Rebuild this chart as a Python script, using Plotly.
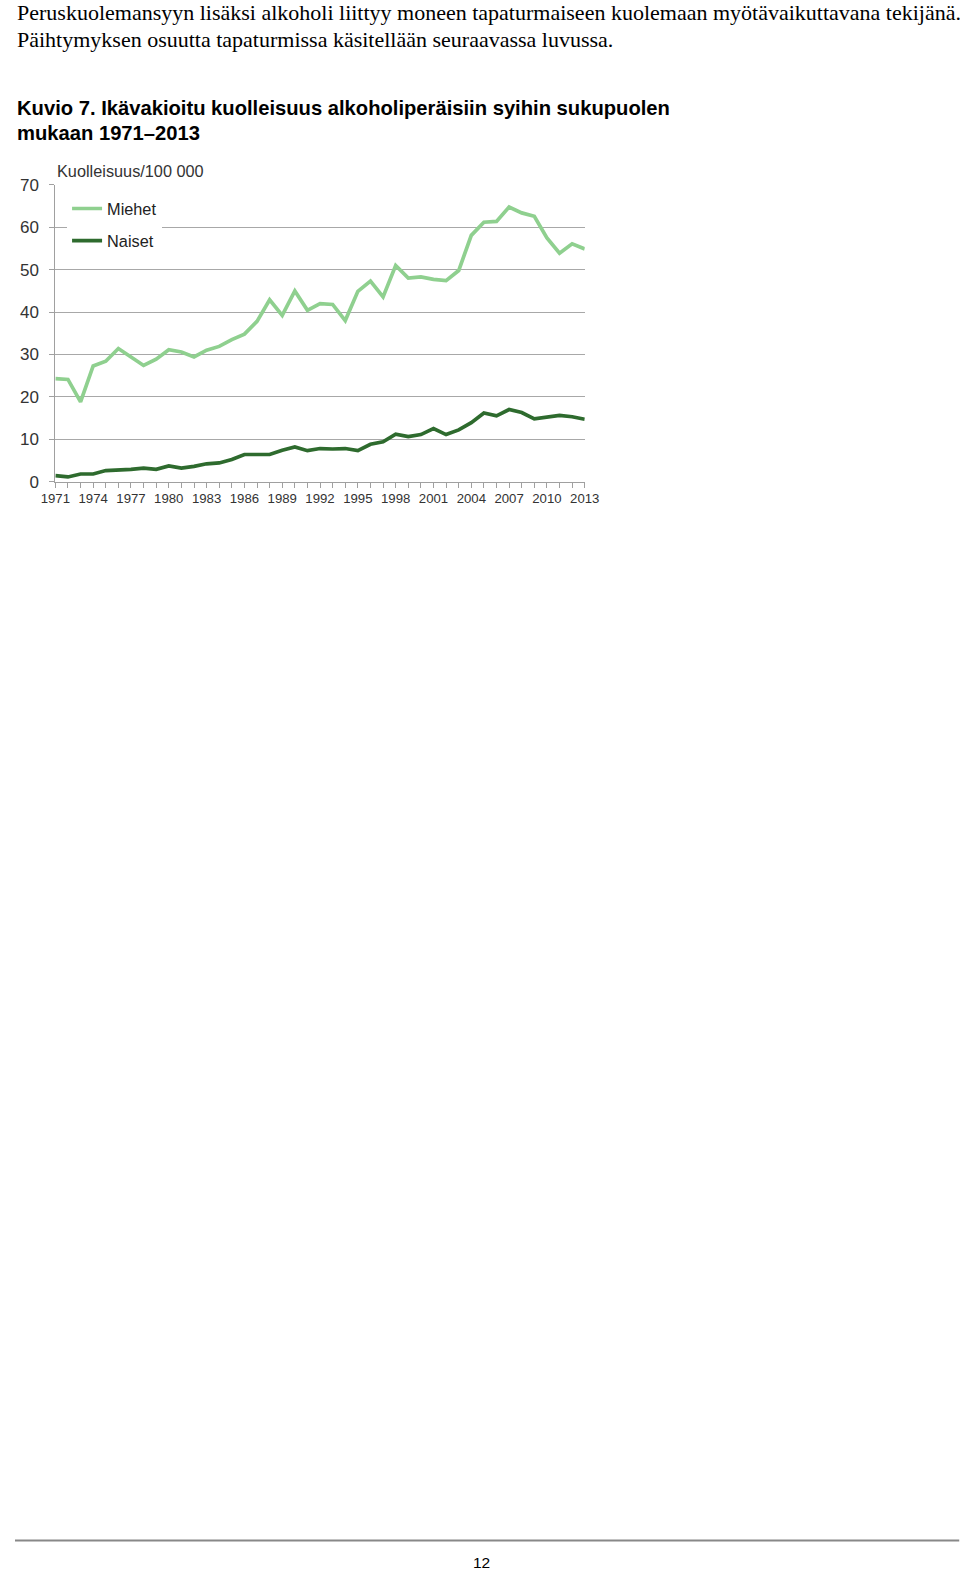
import plotly.graph_objects as go

# The captured page maps figure pixels to picture pixels as
# x' = OX + SX * x and y' = OY + SY * y, so positions read from the
# reference picture are converted back into figure pixels.
SX, OX = 0.968, 14.0
SY, OY = 0.989, 8.4
W, H = 976, 1580

years = list(range(1971, 2014))
miehet = [24.3, 24.1, 18.8, 27.3, 28.4, 31.4, 29.4, 27.4, 28.9, 31.1,
          30.6, 29.4, 31.0, 31.9, 33.5, 34.8, 37.8, 42.9, 39.2, 45.0,
          40.4, 42.0, 41.8, 38.0, 44.9, 47.3, 43.6, 51.0, 48.0, 48.3,
          47.7, 47.4, 49.8, 58.1, 61.2, 61.4, 64.8, 63.4, 62.6, 57.5,
          53.9, 56.1, 54.9]
naiset = [1.4, 1.1, 1.8, 1.8, 2.6, 2.7, 2.9, 3.2, 2.9, 3.7,
          3.2, 3.6, 4.2, 4.4, 5.2, 6.4, 6.4, 6.4, 7.4, 8.2,
          7.3, 7.8, 7.7, 7.8, 7.3, 8.8, 9.4, 11.2, 10.6, 11.1,
          12.5, 11.1, 12.2, 13.9, 16.2, 15.5, 17.0, 16.3, 14.8, 15.1,
          15.6, 15.3, 14.7]
xtick_years = list(range(1971, 2014, 3))
series_names = ["Miehet", "Naiset"]

def px_x(x):
    return max((x - OX) / SX, 0) / W

def px_y(y):
    return 1 - max((y - OY) / SY, 0) / H

SANS = "Liberation Sans, Arial, sans-serif"
SERIF = "Liberation Serif, Times New Roman, serif"

fig = go.Figure()
fig.add_trace(go.Scatter(x=years, y=miehet, mode="lines", name=series_names[0],
                         legendgroup="m",
                         line=dict(color="#8fd08f", width=3.7)))
fig.add_trace(go.Scatter(x=years, y=naiset, mode="lines", name=series_names[1],
                         legendgroup="n",
                         line=dict(color="#2e6b2e", width=3.7)))

fig.update_layout(
    width=W, height=H,
    margin=dict(l=0, r=0, t=0, b=0),
    paper_bgcolor="white", plot_bgcolor="white",
    showlegend=True,
    legend=dict(x=px_x(66), y=px_y(191), xanchor="left", yanchor="top",
                bgcolor="white", font=dict(family=SANS, size=16.3, color="#222222"),
                tracegroupgap=8, itemwidth=30, traceorder="grouped"),
    xaxis=dict(domain=[px_x(54.3), px_x(583)], range=[1971, 2013],
               tickvals=xtick_years, ticktext=[str(y) for y in xtick_years],
               ticks="outside", ticklen=5, tickcolor="#a0a0a0", tickwidth=1,
               minor=dict(ticks="outside", dtick=1, tick0=1971, ticklen=5,
                          tickcolor="#a0a0a0", showgrid=False),
               showline=True, linecolor="#a0a0a0", linewidth=1,
               showgrid=False, zeroline=False,
               tickfont=dict(family=SANS, size=13.2, color="#333333"),
               fixedrange=True),
    yaxis=dict(domain=[px_y(481.5), px_y(184.5)], range=[0, 70], dtick=10,
               ticks="outside", ticklen=5, tickcolor="#a0a0a0",
               showline=True, linecolor="#a0a0a0", linewidth=1,
               showgrid=True, gridcolor="#a8a8a8", gridwidth=1,
               zeroline=False, tickfont=dict(family=SANS, size=17, color="#333333"),
               ticklabelstandoff=7, fixedrange=True),
)

annotations = [
    dict(text="Peruskuolemansyyn lisäksi alkoholi liittyy moneen tapaturmaiseen kuolemaan myötävaikuttavana tekijänä.",
         x=px_x(0), y=px_y(12), font=dict(family=SERIF, size=22.0, color="black")),
    dict(text="Päihtymyksen osuutta tapaturmissa käsitellään seuraavassa luvussa.",
         x=px_x(0), y=px_y(39), font=dict(family=SERIF, size=22.0, color="black")),
    dict(text="<b>Kuvio 7. Ikävakioitu kuolleisuus alkoholiperäisiin syihin sukupuolen</b>",
         x=px_x(0), y=px_y(107.5), font=dict(family=SANS, size=20.2, color="black")),
    dict(text="<b>mukaan 1971–2013</b>",
         x=px_x(0), y=px_y(132.5), font=dict(family=SANS, size=20.2, color="black")),
    dict(text="Kuolleisuus/100 000",
         x=px_x(54), y=px_y(171), font=dict(family=SANS, size=16.3, color="#333333")),
    dict(text="12", x=px_x(480), y=px_y(1564), xanchor="center",
         font=dict(family=SANS, size=15.5, color="black")),
]
for a in annotations:
    a.setdefault("xanchor", "left")
    fig.add_annotation(xref="paper", yref="paper", yanchor="middle", showarrow=False, **a)

fig.add_shape(type="line", xref="paper", yref="paper",
              x0=0, x1=px_x(957), y0=px_y(1541.5), y1=px_y(1541.5),
              line=dict(color="#888888", width=2))

fig.write_html("out.html")
